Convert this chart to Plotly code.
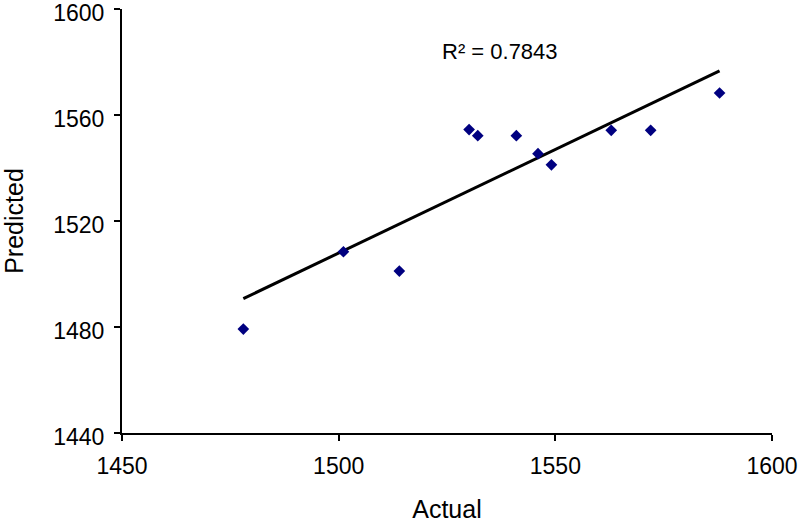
import numpy as np
import plotly.graph_objects as go

actual = [1478.0, 1501.1, 1514.0, 1530.1, 1532.1, 1541.0, 1546.0, 1549.1, 1562.9, 1572.0, 1587.9]
predicted = [1479.2, 1508.4, 1501.1, 1554.5, 1552.2, 1552.2, 1545.4, 1541.2, 1554.2, 1554.2, 1568.3]
x_ticks = [1450, 1500, 1550, 1600]
y_ticks = [1440, 1480, 1520, 1560, 1600]
r2_label = "R² = 0.7843"

slope, intercept = np.polyfit(actual, predicted, 1)
line_x = [min(actual), max(actual)]
line_y = [slope * v + intercept for v in line_x]

fig = go.Figure()
fig.add_trace(go.Scatter(x=line_x, y=line_y, mode="lines",
                         line=dict(color="black", width=3), showlegend=False))
fig.add_trace(go.Scatter(x=actual, y=predicted, mode="markers",
                         marker=dict(symbol="diamond", size=9, color="#000080"),
                         showlegend=False))

fam = "Liberation Sans, Arial, sans-serif"
tick_font = dict(family=fam, size=23, color="black")
title_font = dict(family=fam, size=25, color="black")

fig.update_layout(
    width=799, height=523,
    margin=dict(l=122, r=27, t=9, b=90),
    paper_bgcolor="white", plot_bgcolor="white",
    font=tick_font,
    xaxis=dict(range=[1450, 1600], tickvals=x_ticks, ticks="outside", ticklen=6,
               tickwidth=1.5, tickcolor="black", showline=True, linecolor="black",
               linewidth=2, showgrid=False, zeroline=False, ticklabelstandoff=5,
               tickfont=tick_font, automargin=False, ticklabeloverflow="allow",
               title=dict(text="Actual", font=title_font, standoff=29)),
    yaxis=dict(range=[1440, 1600], tickvals=y_ticks, ticks="outside", ticklen=6,
               tickwidth=1.5, tickcolor="black", showline=True, linecolor="black",
               linewidth=2, showgrid=False, zeroline=False, ticklabelstandoff=5,
               ticklabelshift=4,
               tickfont=tick_font, automargin=False, ticklabeloverflow="allow",
               title=dict(text="Predicted", font=title_font, standoff=36)),
    annotations=[dict(x=1537.3, y=1584, xref="x", yref="y", text=r2_label,
                      showarrow=False, font=dict(family=fam, size=22, color="black"))],
)

fig.write_html("out.html", config={"displayModeBar": False},
               post_script="document.body.style.margin='0';")
